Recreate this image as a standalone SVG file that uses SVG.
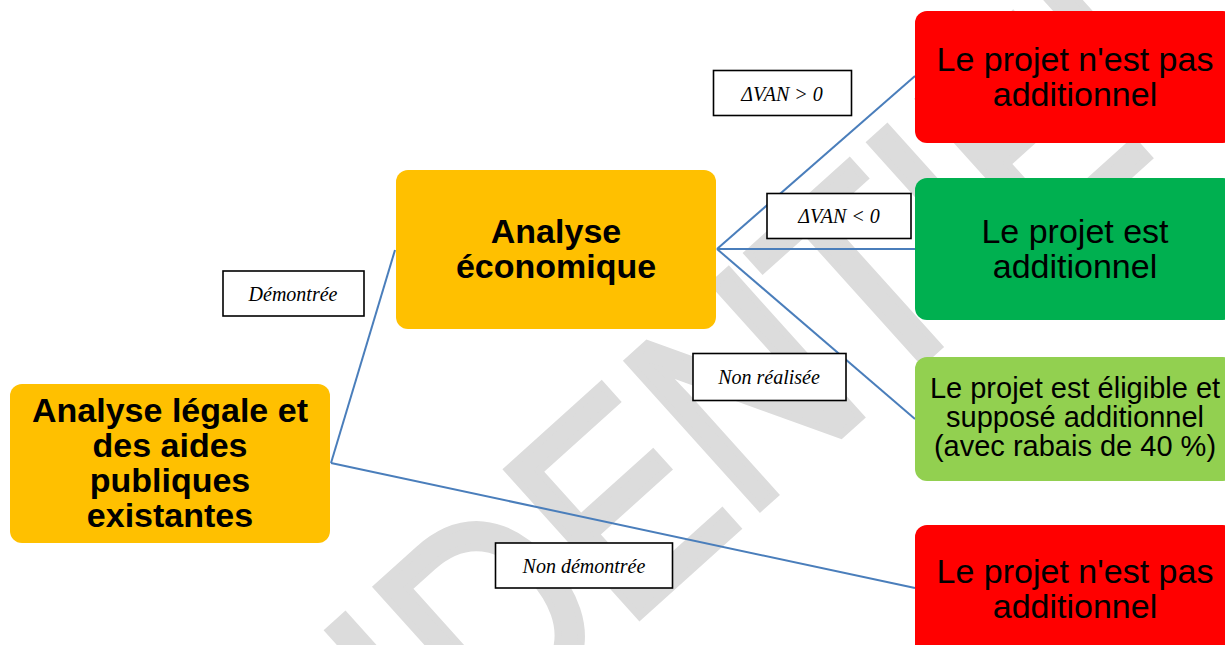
<svg xmlns="http://www.w3.org/2000/svg" width="1225" height="645" viewBox="0 0 1225 645">
  <style>
    .box{stroke:none}
    .bold{font-family:"Liberation Sans",Arial,sans-serif;font-weight:bold;font-size:34px;fill:#000;text-anchor:middle}
    .reg{font-family:"Liberation Sans",Arial,sans-serif;font-size:34px;fill:#000;text-anchor:middle}
    .small{font-family:"Liberation Sans",Arial,sans-serif;font-size:29px;fill:#000;text-anchor:middle}
    .lbl rect{fill:#fff;stroke:#000;stroke-width:1.6}
    .lbl text{font-family:"Liberation Serif","Times New Roman",serif;font-style:italic;font-size:20px;fill:#000;text-anchor:middle}
    .conn line{stroke:#4A7EBB;stroke-width:2;fill:none}
    .wm{font-family:"Liberation Sans",Arial,sans-serif;font-size:286px;fill:#dcdcdc;stroke:#dcdcdc;stroke-width:8;stroke-linejoin:miter}
  </style>
  <rect width="1225" height="645" fill="#fff"/>
  <g id="watermark">
    <text class="wm" transform="translate(-68,1253) rotate(-42) scale(0.85,1)" x="0" y="0">CONFIDENTIEL</text>
  </g>
  <g id="connectors" class="conn">
    <line x1="331" y1="463" x2="395" y2="250"/>
    <line x1="331" y1="463" x2="915" y2="588"/>
    <line x1="717" y1="249" x2="915" y2="76"/>
    <line x1="717" y1="249" x2="915" y2="249"/>
    <line x1="717" y1="249" x2="915" y2="419"/>
  </g>
  <g id="n-legal">
    <rect class="box" x="10" y="384" width="320" height="159" rx="12" fill="#FFC000"/>
    <text class="bold" x="170" y="422">Analyse légale et</text>
    <text class="bold" x="170" y="457">des aides</text>
    <text class="bold" x="170" y="492">publiques</text>
    <text class="bold" x="170" y="527">existantes</text>
  </g>
  <g id="n-eco">
    <rect class="box" x="396" y="170" width="320" height="159" rx="12" fill="#FFC000"/>
    <text class="bold" x="556" y="243">Analyse</text>
    <text class="bold" x="556" y="278">économique</text>
  </g>
  <g id="n-notadd1">
    <rect class="box" x="915" y="11" width="320" height="132" rx="12" fill="#FF0000"/>
    <text class="reg" x="1075" y="71">Le projet n'est pas</text>
    <text class="reg" x="1075" y="106">additionnel</text>
  </g>
  <g id="n-add">
    <rect class="box" x="915" y="178" width="320" height="142" rx="12" fill="#00B050"/>
    <text class="reg" x="1075" y="243">Le projet est</text>
    <text class="reg" x="1075" y="278">additionnel</text>
  </g>
  <g id="n-eligible">
    <rect class="box" x="915" y="357" width="320" height="124" rx="12" fill="#92D050"/>
    <text class="small" x="1075" y="398">Le projet est éligible et</text>
    <text class="small" x="1075" y="427">supposé additionnel</text>
    <text class="small" x="1075" y="456">(avec rabais de 40 %)</text>
  </g>
  <g id="n-notadd2">
    <rect class="box" x="915" y="525" width="320" height="140" rx="12" fill="#FF0000"/>
    <text class="reg" x="1075" y="583">Le projet n'est pas</text>
    <text class="reg" x="1075" y="618">additionnel</text>
  </g>
  <g id="l-vanpos" class="lbl">
    <rect x="713.5" y="70.5" width="138" height="45"/>
    <text x="782" y="101">ΔVAN &gt; 0</text>
  </g>
  <g id="l-vanneg" class="lbl">
    <rect x="767" y="193.5" width="144" height="45"/>
    <text x="839" y="223">ΔVAN &lt; 0</text>
  </g>
  <g id="l-demo" class="lbl">
    <rect x="223" y="271" width="141" height="45"/>
    <text x="293" y="301">Démontrée</text>
  </g>
  <g id="l-nonreal" class="lbl">
    <rect x="693" y="353.5" width="153" height="47"/>
    <text x="769" y="384">Non réalisée</text>
  </g>
  <g id="l-nondemo" class="lbl">
    <rect x="495.5" y="543" width="177" height="45"/>
    <text x="584" y="573">Non démontrée</text>
  </g>
</svg>
